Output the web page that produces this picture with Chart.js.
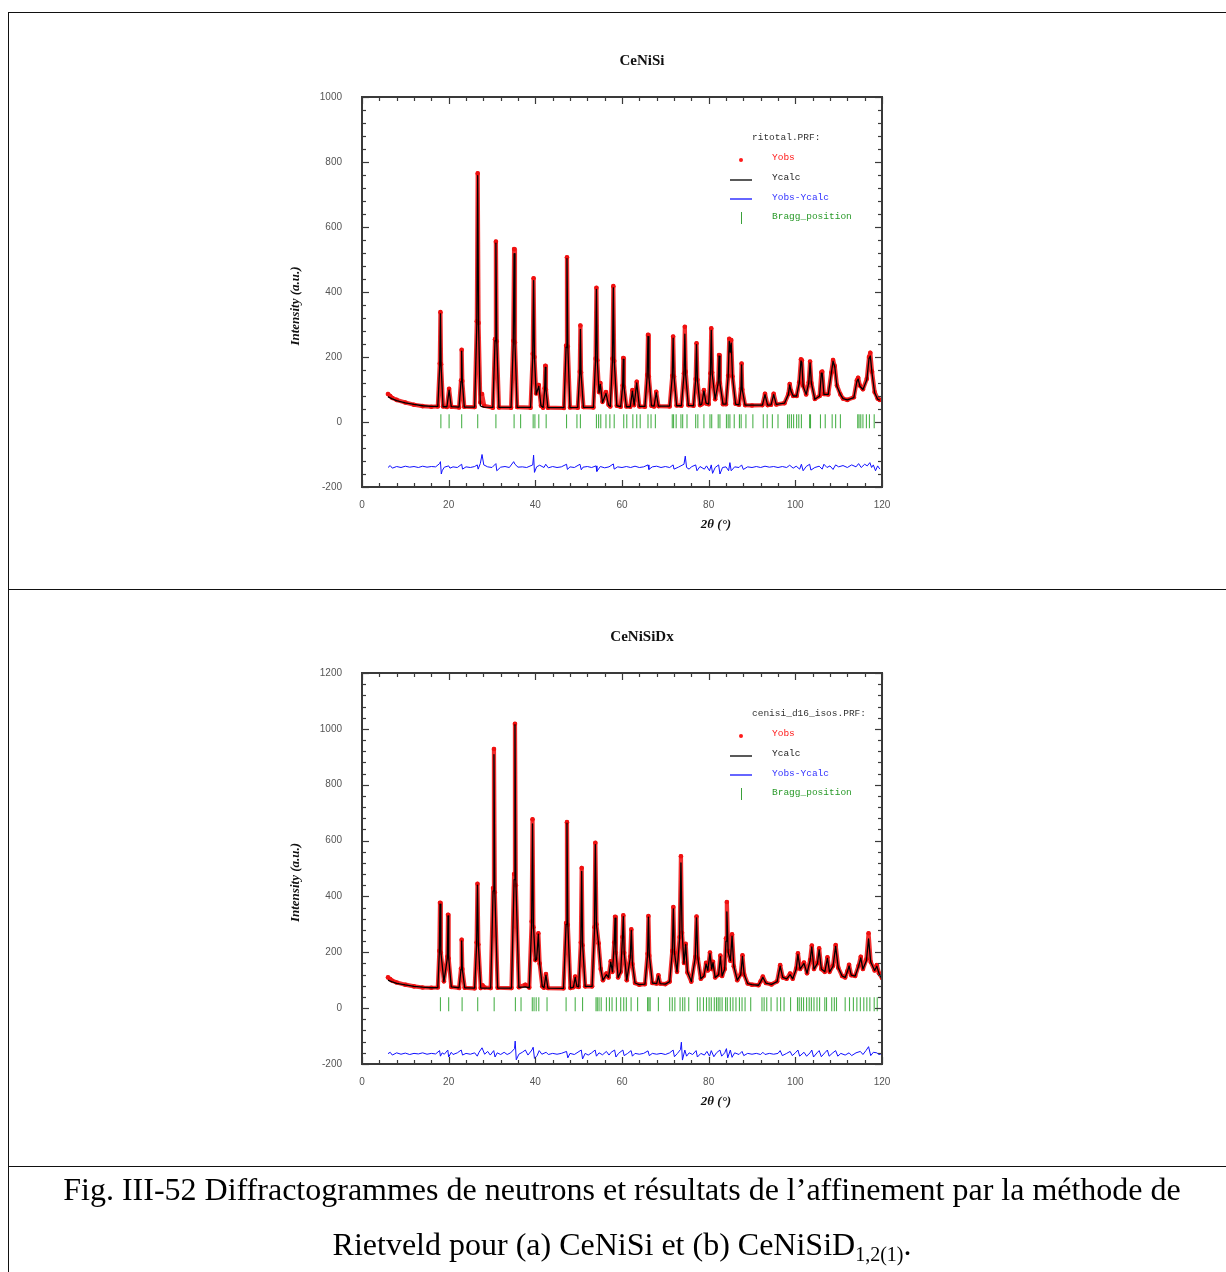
<!DOCTYPE html>
<html>
<head>
<meta charset="utf-8">
<script src="https://cdn.jsdelivr.net/npm/chart.js@4.4.0/dist/chart.umd.min.js"></script>
<style>
  html, body { margin: 0; padding: 0; background: #fff; }
  body { width: 1226px; height: 1272px; position: relative; overflow: hidden; }
  canvas { position: absolute; left: 0; }
  .hl { position: absolute; left: 8px; width: 1226px; height: 1.4px; background: #111; }
  .vl { position: absolute; left: 8px; top: 12px; width: 1.4px; height: 1260px; background: #111; }
  .caption { position: absolute; left: 8px; width: 1228px; top: 1162px; text-align: center;
    font-family: "Liberation Serif", "Times New Roman", serif; font-size: 32px; line-height: 55px; color: #000; }
  .caption sub { font-size: 20px; vertical-align: -6px; line-height: 0; }
</style>
</head>
<body>
<div class="hl" style="top:12px"></div>
<div class="hl" style="top:589px"></div>
<div class="hl" style="top:1166px"></div>
<div class="vl"></div>

<canvas id="c1" width="1226" height="589" style="top:0"></canvas>
<canvas id="c2" width="1226" height="576" style="top:590px"></canvas>

<div class="caption">Fig. III-52 Diffractogrammes de neutrons et résultats de l’affinement par la méthode de<br>Rietveld pour (a) CeNiSi et (b) CeNiSiD<sub>1,2(1)</sub>.</div>

<script>
// ---- CeNiSi : [2theta, Yobs, Ycalc]
const scan1 = [
  [6,86,78],[6.5,80,74],[7,74,71],[8,68,66],[10,60,59],[12,53,54],[14,49,50],[16,47,48],[17.5,48,48],
  [17.95,180,175],[18.1,338,333],[18.25,178,175],[18.7,48,47],
  [19.6,46,47],[20.1,102,98],[20.6,47,47],
  [22.4,45,46],[22.85,128,125],[23.0,222,218],[23.15,126,125],[23.6,47,46],
  [26.0,46,46],[26.5,310,300],[26.7,765,758],[26.9,305,300],[27.3,60,50],[27.7,86,47],[28.2,50,46],
  [30.2,44,45],[30.7,255,250],[30.9,555,550],[31.1,248,250],[31.6,45,45],
  [34.4,44,45],[34.9,250,240],[35.1,532,518],[35.3,245,240],[35.8,46,45],
  [38.9,44,45],[39.4,210,200],[39.6,442,435],[39.8,200,200],[40.2,88,85],[40.8,114,110],[41.3,50,50],
  [41.8,44,45],[42.15,104,100],[42.3,173,168],[42.45,100,100],[42.9,44,44],
  [46.6,43,44],[47.1,235,230],[47.3,507,503],[47.5,232,230],[48.0,45,44],
  [49.8,44,45],[50.25,155,150],[50.4,297,285],[50.55,152,150],[51.1,46,45],
  [53.4,45,45],[53.9,195,190],[54.1,413,408],[54.3,190,190],[54.7,92,90],[55.0,120,116],[55.5,62,60],
  [56.3,92,88],[56.9,53,52],
  [57.3,48,48],[57.8,195,190],[58.0,418,413],[58.2,188,190],[58.8,50,50],
  [59.7,47,47],[60.15,112,110],[60.3,197,193],[60.45,108,110],[61.0,48,47],
  [61.9,47,47],[62.4,98,95],[62.8,52,52],[63.4,124,120],[64.0,48,48],
  [65.3,47,48],[65.8,145,140],[66.0,268,263],[66.2,140,140],[66.8,50,50],
  [67.4,48,49],[67.9,93,90],[68.4,49,49],
  [71.0,48,49],[71.6,142,140],[71.8,263,258],[72.0,140,140],[72.6,51,50],
  [73.7,50,50],[74.3,150,145],[74.5,293,270],[74.7,155,145],[75.3,52,51],
  [76.5,50,50],[77.0,132,130],[77.2,242,238],[77.4,130,130],[78.0,52,52],
  [78.4,55,55],[78.9,98,96],[79.4,57,58],
  [80.0,55,55],[80.4,150,150],[80.6,288,282],[80.8,152,150],[81.5,70,70],
  [82.2,118,120],[82.4,206,203],[82.6,120,120],[83.3,55,55],
  [84.0,55,55],[84.5,142,140],[84.75,256,248],[85.0,215,215],[85.2,252,243],[85.5,140,140],[86.2,56,55],
  [87.0,53,53],[87.45,102,100],[87.6,180,176],[87.75,100,100],[88.4,52,52],
  [90.0,51,52],[92.4,52,52],[93.0,87,84],[93.6,52,52],[94.4,53,53],[95.0,87,84],[95.6,54,54],
  [97.5,58,58],[98.4,86,85],[98.7,117,114],[99.0,96,95],[99.5,80,80],[100.3,80,80],
  [100.9,122,120],[101.3,193,188],[101.5,190,183],[101.8,112,110],[102.5,85,85],
  [103.1,122,120],[103.4,186,182],[103.7,120,120],[104.5,71,70],
  [105.6,80,80],[106.0,153,150],[106.2,155,150],[106.6,86,85],
  [107.6,85,85],[108.3,152,150],[108.7,191,187],[109.1,172,170],[109.6,112,110],[110.4,85,85],
  [111.0,72,72],[112.0,68,68],[113.5,76,75],[114.2,128,125],[114.5,136,132],[114.9,112,110],
  [115.6,101,100],[116.5,133,130],[117.0,200,195],[117.3,213,203],[117.7,155,150],
  [118.3,92,90],[119.0,72,70],[119.5,68,67]
];

// CeNiSi : Yobs-Ycalc (offset curve)
const diff1 = [
  [6,-140],[6.5,-134],[7,-142],[8,-137],[9,-140],[10,-136],[11,-139],[12,-137],[13,-140],[14,-136],
  [15,-139],[16,-137],[17,-138],[17.9,-128],[18.1,-122],[18.3,-160],[18.5,-150],[19,-139],[20,-135],
  [20.3,-142],[21,-138],[22,-140],[23,-130],[23.2,-145],[24,-138],[25,-140],[26,-137],[26.6,-132],
  [26.8,-145],[27.3,-128],[27.7,-100],[28.1,-132],[29,-138],[30,-140],[30.9,-128],[31.1,-150],
  [32,-139],[33,-137],[34,-140],[35,-122],[35.3,-130],[36,-139],[37,-138],[38,-140],[39.4,-132],
  [39.6,-102],[39.8,-155],[40.3,-138],[41,-133],[42,-140],[42.4,-130],[43,-141],[44,-137],[45,-140],
  [46,-138],[47.2,-130],[47.4,-146],[48,-138],[49,-140],[50.3,-130],[50.6,-147],[51,-139],[52,-137],
  [53,-140],[54,-135],[54.2,-152],[55,-137],[56,-141],[57,-138],[58,-129],[58.2,-145],[59,-138],
  [60,-140],[61,-137],[62,-140],[63,-136],[64,-140],[65,-138],[66,-132],[66.2,-146],[67,-138],
  [68,-136],[69,-140],[70,-137],[71,-140],[71.8,-132],[72,-145],[73,-139],[74.3,-130],[74.6,-105],
  [74.9,-140],[75.5,-145],[76,-138],[77,-132],[77.3,-150],[78,-137],[79,-145],[79.5,-135],[80.2,-150],
  [80.6,-132],[80.9,-158],[81.5,-140],[82.3,-132],[82.6,-160],[83.2,-140],[84,-138],[84.6,-150],
  [84.9,-125],[85.2,-150],[86,-138],[87,-140],[87.6,-132],[88,-146],[89,-138],[90,-140],[91,-137],
  [92,-140],[93,-136],[94,-139],[95,-137],[96,-140],[97,-137],[98,-140],[98.7,-133],[99.5,-142],
  [100.2,-136],[101,-145],[101.4,-130],[101.8,-150],[102.5,-137],[103.3,-130],[103.6,-148],
  [104.5,-140],[105.5,-136],[106.2,-145],[106.6,-130],[107.3,-140],[108,-135],[108.7,-146],
  [109.3,-132],[110,-138],[111,-134],[112,-140],[113,-132],[114,-138],[114.6,-128],[115.2,-140],
  [116,-130],[116.6,-135],[117.2,-125],[117.6,-140],[118,-132],[118.5,-150],[119,-135],[119.5,-145]
];

// CeNiSi : Bragg positions
const bragg1 = [18.2,20.1,23.0,26.7,30.9,35.1,36.6,39.5,39.9,40.8,42.5,47.2,49.6,50.4,54.1,54.6,55.1,
  56.3,57.2,58.2,60.4,61.1,62.5,63.4,64.2,66.0,66.7,67.7,71.6,71.9,72.5,73.6,74.0,75.0,77.0,77.5,78.9,
  80.3,80.7,82.2,82.6,84.1,84.5,84.9,85.9,87.1,87.5,88.6,90.2,92.6,93.5,94.7,96.0,98.2,98.6,99.1,99.6,
  100.3,100.8,101.4,103.3,103.5,105.8,106.9,108.5,109.3,110.4,114.4,114.7,115.1,115.6,116.4,117.1,118.2];

// ---- CeNiSiDx : [2theta, Yobs, Ycalc]
const scan2 = [
  [6,110,100],[6.5,104,97],[7,98,94],[8,92,89],[10,84,83],[12,78,78],[14,74,75],[16,73,73],[17.5,74,74],
  [17.85,205,200],[18.0,377,372],[18.2,198,200],[18.9,96,95],
  [19.7,185,180],[19.85,334,330],[20.0,178,180],[20.6,76,76],
  [22.4,72,73],[22.85,142,140],[23.0,245,241],[23.15,140,140],[23.7,73,73],
  [26.0,71,72],[26.45,235,230],[26.65,445,440],[26.85,228,230],[27.4,72,72],[27.8,82,72],[28.3,74,72],
  [29.7,72,72],[30.25,430,420],[30.45,928,908],[30.65,415,420],[31.3,73,72],
  [34.5,72,72],[35.1,480,460],[35.3,1018,1015],[35.5,440,460],[36.2,75,74],[37.7,84,76],
  [38.6,74,73],[39.15,310,300],[39.35,676,660],[39.55,290,300],[40.0,172,170],[40.3,175,175],
  [40.7,268,265],[41.0,160,160],[41.6,78,78],
  [42.0,73,73],[42.45,122,118],[42.9,72,72],
  [46.5,71,71],[47.1,305,300],[47.3,666,662],[47.5,298,300],[48.1,72,72],
  [48.8,75,75],[49.2,113,110],[49.6,78,78],
  [50.0,76,76],[50.5,235,230],[50.7,502,490],[50.9,225,230],[51.5,78,78],
  [53.1,78,78],[53.65,290,280],[53.85,592,585],[54.1,300,300],[54.6,232,230],[55.1,140,140],[55.6,100,100],
  [56.4,124,120],[56.9,110,110],[57.4,168,165],[57.8,130,130],
  [58.2,235,230],[58.4,327,322],[58.6,198,200],[59.1,110,110],
  [59.7,130,130],[60.1,255,250],[60.3,332,328],[60.5,198,200],[61.1,100,100],
  [61.9,185,180],[62.15,282,278],[62.4,158,160],[63.0,90,90],[64.0,84,84],
  [65.3,86,86],[65.9,195,190],[66.1,330,326],[66.3,188,190],[67.0,90,90],
  [68.0,88,88],[68.4,118,115],[68.8,88,88],[70.0,86,86],
  [71.0,95,95],[71.6,205,200],[71.85,362,355],[72.1,198,200],[72.7,130,130],
  [73.3,255,250],[73.6,544,520],[73.85,270,280],[74.3,162,160],[74.7,230,228],[75.1,128,130],[76.0,95,95],
  [76.9,183,180],[77.2,328,323],[77.5,178,180],[78.2,105,105],
  [78.9,116,115],[79.4,162,158],[79.8,135,135],[80.3,199,195],[80.7,140,140],[81.0,166,163],[81.5,110,110],
  [82.3,120,120],[82.7,188,184],[83.1,115,115],
  [83.7,140,140],[84.0,250,240],[84.2,380,345],[84.5,205,200],[85.0,170,170],[85.4,264,258],[85.8,150,150],
  [86.6,100,100],[87.4,122,120],[87.8,189,185],[88.2,120,120],[89.0,88,88],
  [90.0,84,84],[91.5,82,82],[92.0,96,95],[92.5,113,110],[93.2,90,90],[94.5,85,85],
  [95.8,96,95],[96.5,154,150],[97.1,110,110],[98.0,105,105],[98.8,124,120],[99.4,105,105],
  [100.2,142,140],[100.6,196,192],[101.1,140,140],[102.0,163,160],[102.7,125,125],
  [103.4,172,170],[103.8,224,219],[104.3,140,140],[105.1,162,160],[105.5,214,209],[106.0,140,140],
  [106.8,130,130],[107.4,182,178],[107.9,130,130],[108.7,152,150],[109.3,226,221],[109.9,145,145],
  [110.8,115,115],[111.5,110,110],[112.0,132,130],[112.4,155,151],[112.9,118,118],
  [113.8,115,115],[114.6,152,150],[115.1,184,180],[115.6,140,140],[116.4,175,170],[116.9,268,248],
  [117.4,165,165],[118.3,135,135],[118.8,154,150],[119.3,125,125],[120.0,108,105]
];

// CeNiSiDx : Yobs-Ycalc (offset curve)
const diff2 = [
  [6,-163],[6.5,-158],[7,-168],[8,-160],[9,-165],[10,-161],[11,-166],[12,-162],[13,-164],[14,-160],
  [15,-165],[16,-162],[17,-164],[17.9,-152],[18.1,-172],[18.5,-160],[19,-165],[19.8,-150],[20.0,-175],
  [20.6,-158],[21,-166],[22,-160],[22.9,-150],[23.2,-168],[24,-162],[25,-165],[26,-160],[26.6,-172],
  [27,-158],[27.7,-142],[28.3,-165],[29,-155],[29.6,-168],[30.4,-152],[30.7,-175],[31.2,-160],
  [32,-166],[32.8,-158],[33.5,-166],[34.3,-160],[35.2,-145],[35.35,-118],[35.6,-185],[36.2,-165],
  [37,-158],[37.7,-150],[38.3,-168],[39.2,-150],[39.5,-140],[39.8,-180],[40.4,-170],[40.9,-152],
  [41.5,-165],[42.5,-158],[43,-166],[44,-162],[45,-165],[46,-162],[47.2,-155],[47.5,-178],[48,-162],
  [49,-166],[50.6,-150],[50.9,-182],[51.5,-162],[52.2,-168],[53,-160],[53.8,-150],[54.1,-172],
  [54.7,-160],[55.5,-167],[56.4,-155],[57,-168],[57.5,-158],[58.3,-150],[58.6,-175],[59.2,-162],
  [60.2,-150],[60.5,-170],[61.3,-162],[62.1,-152],[62.4,-172],[63,-162],[64,-165],[65,-162],
  [66.0,-153],[66.3,-170],[67,-162],[68,-165],[69,-162],[70,-166],[71,-160],[71.8,-150],[72.1,-174],
  [72.8,-162],[73.5,-148],[73.7,-122],[73.95,-186],[74.5,-150],[74.9,-172],[75.5,-160],[76.3,-166],
  [77.1,-152],[77.4,-175],[78.2,-162],[79,-168],[79.6,-155],[80.2,-172],[80.6,-152],[81.2,-174],
  [81.8,-160],[82.6,-150],[83,-172],[83.7,-160],[84.1,-145],[84.4,-178],[85.0,-150],[85.4,-176],
  [86,-160],[87,-166],[87.7,-155],[88.1,-170],[89,-162],[90,-165],[91,-162],[92,-166],[92.5,-158],
  [93,-166],[94,-162],[95,-165],[96,-162],[96.5,-152],[97,-170],[98,-162],[98.8,-155],[99.3,-170],
  [100,-160],[100.6,-150],[101,-172],[102,-158],[102.6,-172],[103.4,-160],[103.8,-150],[104.2,-175],
  [105,-160],[105.5,-152],[106,-174],[106.8,-160],[107.4,-150],[107.8,-172],[108.5,-162],[109.3,-152],
  [109.8,-172],[110.5,-162],[111.5,-168],[112.4,-160],[113,-170],[114,-160],[115,-155],[115.6,-166],
  [116.3,-152],[116.9,-138],[117.4,-170],[118,-158],[118.8,-160],[119.3,-166],[120,-163]
];

// CeNiSiDx : Bragg positions
const bragg2 = [18.1,20.0,23.1,26.7,30.5,35.4,36.7,39.3,39.7,40.2,40.8,42.7,47.1,49.2,50.9,54.0,54.3,
  54.7,55.2,56.4,57.1,57.7,58.7,59.7,60.4,61.0,62.1,63.6,65.9,66.2,66.5,68.4,71.0,71.6,72.2,73.4,74.0,
  74.5,75.4,77.4,78.0,78.8,79.5,80.1,80.6,81.3,81.8,82.2,82.6,83.1,83.9,84.3,85.0,85.6,86.3,87.1,87.7,
  88.4,89.7,92.3,92.8,93.4,94.4,95.8,96.6,97.4,98.9,100.5,100.9,101.4,101.9,102.6,103.2,103.7,104.3,
  105.0,105.6,106.8,107.2,108.4,109.0,109.5,111.5,112.5,113.4,114.2,115.0,115.8,116.5,117.2,118.2,118.9];

const xTicks = [0, 120];
const yRange1 = [-200, 1000];
const yRange2 = [-200, 1200];

// frame, inner ticks, titles and the in-plot legend
const decor = {
  id: 'decor',
  afterDatasetsDraw(chart, args, o) {
    const { ctx, chartArea: a, scales: { x, y } } = chart;
    const seg = (x1, y1, x2, y2) => { ctx.beginPath(); ctx.moveTo(x1, y1); ctx.lineTo(x2, y2); ctx.stroke(); };
    ctx.save();
    ctx.strokeStyle = '#3a3a3a';
    ctx.lineWidth = 1.2;
    for (let v = y.min; v <= y.max; v += 40) {
      const py = Math.round(y.getPixelForValue(v)) + 0.5;
      const len = v % 200 === 0 ? 7 : 4;
      seg(a.left, py, a.left + len, py);
      seg(a.right, py, a.right - len, py);
    }
    for (let v = x.min; v <= x.max; v += 4) {
      const px = Math.round(x.getPixelForValue(v)) + 0.5;
      const len = v % 20 === 0 ? 7 : 4;
      seg(px, a.bottom, px, a.bottom - len);
      seg(px, a.top, px, a.top + len);
    }
    ctx.lineWidth = 2;
    ctx.strokeRect(a.left, a.top, a.right - a.left, a.bottom - a.top);

    // titles
    ctx.fillStyle = '#111';
    ctx.textBaseline = 'middle';
    ctx.textAlign = 'center';
    ctx.font = 'bold 15px "Liberation Serif"';
    ctx.fillText(o.title, a.left + 280, a.top - 36);
    ctx.font = 'bold italic 13px "Liberation Serif"';
    ctx.fillText('2θ (°)', a.left + 354, a.bottom + 38);
    ctx.save();
    ctx.translate(a.left - 66, (a.top + a.bottom) / 2 + 14);
    ctx.rotate(-Math.PI / 2);
    ctx.fillText('Intensity (a.u.)', 0, 0);
    ctx.restore();

    // legend
    const lx = a.left, ly = a.top;
    ctx.textAlign = 'left';
    ctx.font = '9.5px "Liberation Mono"';
    ctx.fillStyle = '#333';
    ctx.fillText(o.file, lx + 390, ly + 40);
    ctx.fillStyle = '#ff1a1a';
    ctx.fillText('Yobs', lx + 410, ly + 60);
    ctx.beginPath(); ctx.arc(lx + 379, ly + 63, 2, 0, Math.PI * 2); ctx.fill();
    ctx.fillStyle = '#222';
    ctx.fillText('Ycalc', lx + 410, ly + 80);
    ctx.strokeStyle = '#222'; ctx.lineWidth = 1.5;
    seg(lx + 368, ly + 83, lx + 390, ly + 83);
    ctx.fillStyle = '#3333ff';
    ctx.fillText('Yobs-Ycalc', lx + 410, ly + 100);
    ctx.strokeStyle = '#3333ff';
    seg(lx + 368, ly + 102, lx + 390, ly + 102);
    ctx.fillStyle = '#2a9a2a';
    ctx.fillText('Bragg_position', lx + 410, ly + 119);
    ctx.strokeStyle = '#3aa03a'; ctx.lineWidth = 1;
    seg(lx + 379.5, ly + 115, lx + 379.5, ly + 127);
    ctx.restore();
  }
};

function makeChart(id, scan, diff, bragg, braggLevel, yRange, title, file, padTop) {
  const calc = scan.map(r => ({ x: r[0], y: r[2] }));
  const obs = scan.map(r => ({ x: r[0], y: r[1] }));
  const dif = diff.map(r => ({ x: r[0], y: r[1] }));
  const brg = bragg.map(v => ({ x: v, y: braggLevel }));
  const tickFont = { family: '"Liberation Sans"', size: 10 };
  return new Chart(document.getElementById(id), {
    type: 'scatter',
    data: {
      datasets: [
        { label: 'Ycalc', data: calc, showLine: true, borderColor: '#000', borderWidth: 1.3,
          borderJoinStyle: 'round', pointRadius: 0, order: 0 },
        { label: 'Yobs-Ycalc', data: dif, showLine: true, borderColor: '#1010ff', borderWidth: 1,
          borderJoinStyle: 'round', pointRadius: 0, order: 1 },
        { label: 'Yobs', data: obs, showLine: true, borderColor: 'rgba(240,10,10,0.85)', borderWidth: 4.2,
          borderJoinStyle: 'round', borderCapStyle: 'round',
          pointRadius: 2.3, pointBackgroundColor: '#f01010', pointBorderWidth: 0, order: 2 },
        { label: 'Bragg_position', data: brg, showLine: false, pointStyle: 'line', rotation: 90,
          pointRadius: 7, pointBorderColor: 'rgba(0,145,0,0.7)', pointBorderWidth: 1.1, order: 3 }
      ]
    },
    options: {
      responsive: false,
      animation: false,
      events: [],
      layout: { padding: { left: 302, right: 344, top: padTop, bottom: 62 } },
      plugins: { legend: { display: false }, tooltip: { enabled: false }, decor: { title, file } },
      scales: {
        x: {
          type: 'linear', min: xTicks[0], max: xTicks[1],
          grid: { display: false, drawTicks: false }, border: { display: false },
          ticks: { stepSize: 20, font: tickFont, color: '#555', padding: 12, callback: v => String(v) },
          afterFit: s => { s.height = 40; }
        },
        y: {
          type: 'linear', min: yRange[0], max: yRange[1],
          grid: { display: false, drawTicks: false }, border: { display: false },
          ticks: { stepSize: 200, font: tickFont, color: '#555', padding: 20, callback: v => String(v) },
          afterFit: s => { s.width = 60; }
        }
      }
    },
    plugins: [decor]
  });
}

makeChart('c1', scan1, diff1, bragg1, 2, yRange1, 'CeNiSi', 'ritotal.PRF:', 97);
makeChart('c2', scan2, diff2, bragg2, 14, yRange2, 'CeNiSiDx', 'cenisi_d16_isos.PRF:', 83);
</script>
</body>
</html>
